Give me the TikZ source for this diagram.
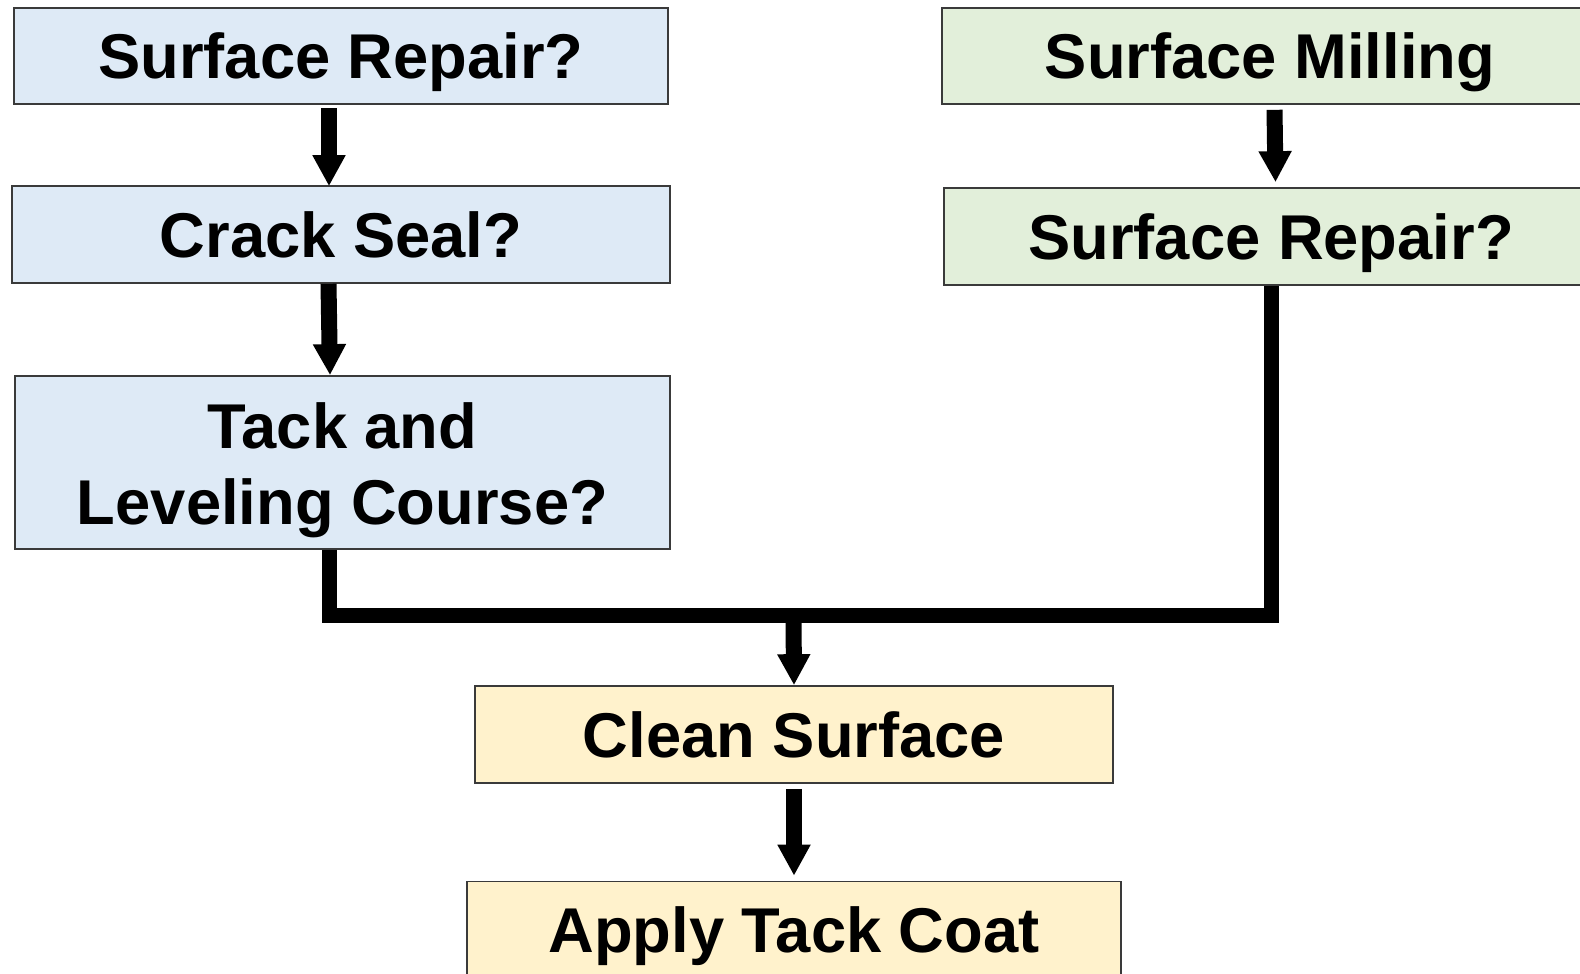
\documentclass[tikz,border=0pt]{standalone}
\usepackage{fontspec}
\setmainfont{Liberation Sans}
\usetikzlibrary{arrows.meta,calc}
\definecolor{bluefill}{HTML}{DEEAF6}
\definecolor{greenfill}{HTML}{E2EFDA}
\definecolor{yellowfill}{HTML}{FFF2CC}
\definecolor{boxline}{HTML}{3A3A3A}
\tikzset{
  stepbox/.style={draw=boxline, line width=0.45pt, rectangle, inner sep=0pt,
    align=center, font=\fontsize{18}{21.5}\selectfont\bfseries,
    text height=16.2pt, text depth=3.3pt},
  twoline/.style={text height=40pt, text depth=5pt},
  bluebox/.style={stepbox, fill=bluefill},
  greenbox/.style={stepbox, fill=greenfill},
  yellowbox/.style={stepbox, fill=yellowfill},
  arr/.style={line width=0.16cm, -{Triangle[width=0.31cm,length=0.31cm]}},
  conn/.style={line width=0.15cm, line join=miter}
}
\begin{document}
\begin{tikzpicture}[x=0.01cm,y=-0.01cm]
\useasboundingbox (0,0) rectangle (1580,973);
\clip (0,0) rectangle (1580,973);
\fill[white] (0,0) rectangle (1580,973);
% left column
\node[bluebox, minimum width=6.54cm, minimum height=0.96cm] (sr1) at (341,56) {Surface Repair?};
\node[bluebox, minimum width=6.58cm, minimum height=0.97cm] (cs) at (341,234.5) {Crack Seal?};
\node[bluebox, twoline, minimum width=6.55cm, minimum height=1.73cm] (tl) at (342.5,462.5) {Tack and\\Leveling Course?};
% right column
\node[greenbox, minimum width=6.56cm, minimum height=0.96cm] (sm) at (1270,56) {Surface Milling};
\node[greenbox, minimum width=6.54cm, minimum height=0.97cm] (sr2) at (1271,236.5) {Surface Repair?};
% bottom
\node[yellowbox, minimum width=6.38cm, minimum height=0.97cm] (cl) at (794,734.5) {Clean Surface};
\node[yellowbox, minimum width=6.54cm, minimum height=0.97cm] (at) at (794,930) {Apply Tack Coat};
% arrows
\draw[arr] ([xshift=-0.12cm,yshift=-0.035cm]sr1.south) -- ([xshift=-0.12cm,yshift=-0.01cm]cs.north);
\draw[arr] ([xshift=-0.125cm]cs.south) -- ([xshift=-0.125cm]tl.north);
\draw[arr] ([xshift=0.045cm,yshift=-0.05cm]sm.south) -- ([xshift=0.045cm,yshift=0.05cm]sr2.north);
\coordinate (j) at (793.5,615);
\draw[conn] ([xshift=-0.13cm]tl.south) |- (j) -| (sr2.south);
\draw[arr] (j) -- (cl.north);
\draw[arr] ([yshift=-0.05cm]cl.south) -- ([yshift=0.05cm]at.north);
\end{tikzpicture}
\end{document}
